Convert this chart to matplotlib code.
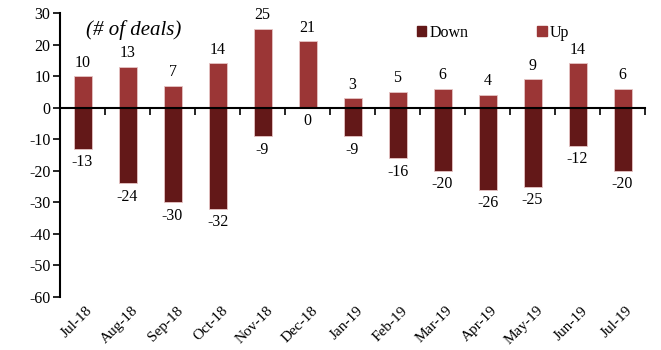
import numpy as np
import matplotlib.pyplot as plt
from matplotlib.patches import Patch

months = ['Jul-18', 'Aug-18', 'Sep-18', 'Oct-18', 'Nov-18', 'Dec-18', 'Jan-19',
          'Feb-19', 'Mar-19', 'Apr-19', 'May-19', 'Jun-19', 'Jul-19']
up = [10, 13, 7, 14, 25, 21, 3, 5, 6, 4, 9, 14, 6]
down = [-13, -24, -30, -32, -9, 0, -9, -16, -20, -26, -25, -12, -20]

up_color = '#9b3636'
down_color = '#631818'

plt.rcParams['font.family'] = ['Liberation Serif', 'DejaVu Serif']
plt.rcParams['axes.unicode_minus'] = False

fig = plt.figure(figsize=(6.61, 3.5), dpi=100)
ax = fig.add_axes([60 / 661, 1 - 297 / 350, 585 / 661, 284 / 350])

x = np.arange(len(months))
w = 0.4
ax.bar(x, down, w, color=down_color, edgecolor='#e6c4c4', linewidth=0.6, zorder=2)
ax.bar(x, up, w, color=up_color, edgecolor='#e6c4c4', linewidth=0.6, zorder=2)

# value labels
for i in range(len(months)):
    ax.annotate(str(up[i]), (x[i], up[i]), xytext=(0, 4), textcoords='offset points',
                ha='center', va='bottom', fontsize=11.5)
    ax.annotate(str(down[i]), (x[i], down[i]), xytext=(0, -4), textcoords='offset points',
                ha='center', va='top', fontsize=11.5)

ax.set_xlim(-0.5, len(months) - 0.5)
ax.set_ylim(-60, 30)
ax.set_yticks(range(-60, 31, 10))
ax.tick_params(axis='y', direction='out', length=5, width=1.2, labelsize=11.5, pad=2)

# x axis drawn at zero, ticks between categories
ax.spines['bottom'].set_position(('data', 0))
ax.spines['bottom'].set_linewidth(1.5)
ax.spines['bottom'].set_zorder(3)
ax.spines['left'].set_linewidth(1.5)
ax.spines['top'].set_visible(False)
ax.spines['right'].set_visible(False)
ax.set_xticks(np.arange(len(months) + 1) - 0.5)
ax.set_xticklabels([])
ax.tick_params(axis='x', direction='out', length=5, width=1.2)

trans = ax.get_xaxis_transform()
for i, m in enumerate(months):
    ax.text(x[i] + 0.08, -0.025, m, transform=trans, rotation=45, ha='right', va='top',
            rotation_mode='anchor', fontsize=11)

ax.text(0.045, 0.975, '(# of deals)', transform=ax.transAxes, style='italic',
        fontsize=15, ha='left', va='top')

handles = [Patch(color=down_color), Patch(color=up_color)]
ax.legend(handles, ['Down', 'Up'], loc='center left', bbox_to_anchor=(0.585, 0.93),
          ncol=2, frameon=False, fontsize=11.5, handlelength=0.6, handleheight=0.6,
          handletextpad=0.2, columnspacing=4.3)

fig.savefig('out.png', dpi=100)
